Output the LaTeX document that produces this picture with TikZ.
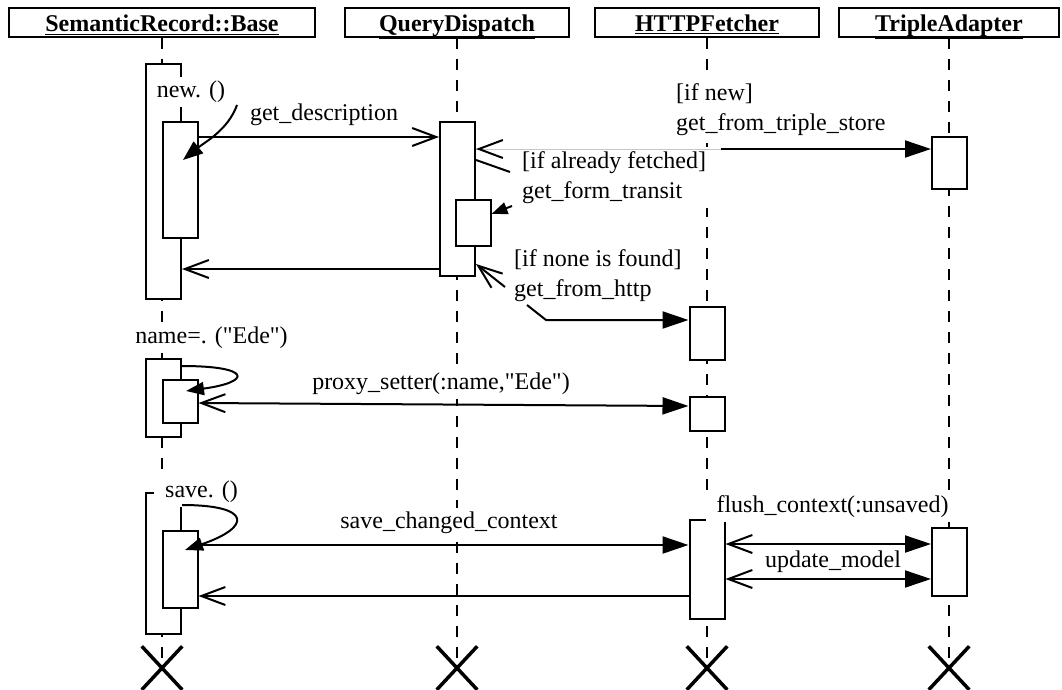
\documentclass[tikz,border=0pt]{standalone}
\usepackage{fontspec}
\setmainfont{Liberation Serif}[Ligatures=TeXOff]
\usetikzlibrary{arrows.meta,shapes.misc}
\begin{document}
\begin{tikzpicture}[x=1pt,y=-1pt,
  font=\fontsize{24}{30}\selectfont,
  head/.style={draw, line width=2pt, rectangle, inner sep=0pt, minimum height=29pt, text height=22pt, text depth=3pt},
  act/.style={draw, line width=2pt, fill=white, rectangle, inner sep=0pt, minimum width=35pt},
  life/.style={line width=2pt, dash pattern=on 11pt off 10pt},
  lbl/.style={fill=white, inner xsep=4pt, inner ysep=4pt, align=left},
  msg/.style={line width=2pt},
  fhead/.style={-{Triangle[length=26pt,width=17pt]}},
  ohead/.style={-{Straight Barb[length=24pt,width=18pt]}},
  both/.style={{Straight Barb[length=24pt,width=18pt]}-{Triangle[length=26pt,width=17pt]}},
  shead/.style={-{Triangle[length=18pt,width=13pt]}},
  destroy/.style={draw, cross out, line width=3.5pt, minimum width=37pt, minimum height=40pt, inner sep=0pt}
]
\useasboundingbox (0,0) rectangle (1062,690);

% headers
\node[head, minimum width=306pt] (h1) at (162,22.5) {\underline{\textbf{SemanticRecord::Base}}};
\node[head, minimum width=224pt] (h2) at (457,22.5) {\underline{\textbf{QueryDispatch}}};
\node[head, minimum width=224pt] (h3) at (707,22.5) {\underline{\textbf{HTTPFetcher}}};
\node[head, minimum width=220pt] (h4) at (949,22.5) {\underline{\textbf{TripleAdapter}}};

% destroy marks
\node[destroy] (x1) at (162,668) {};
\node[destroy] (x2) at (457,668) {};
\node[destroy] (x3) at (707,668) {};
\node[destroy] (x4) at (949,668) {};

% lifelines
\draw[life] (h1.south) -- (x1.center);
\draw[life] (h2.south) -- (x2.center);
\draw[life] (h3.south) -- (x3.center);
\draw[life] (h4.south) -- (x4.center);

% activations
\node[act, minimum height=235pt] (sr1) at (163.5,181.5) {};
\node[act, minimum height=116pt] (sr2) at (180,180) {};
\node[act, minimum height=78pt]  (sr3) at (163.5,398) {};
\node[act, minimum height=43pt]  (sr4) at (180,401.5) {};
\node[act, minimum height=141pt] (sr5) at (163.5,563.5) {};
\node[act, minimum height=77pt]  (sr6) at (180,569.5) {};

\node[act, minimum height=154pt] (qd1) at (457.5,199) {};
\node[act, minimum height=46pt]  (qd2) at (473,223) {};

\node[act, minimum height=53pt] (hf1) at (707,333.5) {};
\node[act, minimum height=34pt] (hf2) at (707,414) {};
\node[act, minimum height=99pt] (hf3) at (707,569.5) {};

\node[act, minimum height=52pt] (ta1) at (949.5,163) {};
\node[act, minimum height=68pt] (ta2) at (949.5,562) {};

% labels
\node[lbl] (l1) at (191,92) {new. ()};
\node[lbl] (l2) at (324,115) {get\_description};
\node[lbl, anchor=west] (l3) at (672,110) {[if new]\\get\_from\_triple\_store};
\node[lbl, anchor=west] (l4) at (518,177.5) {[if already fetched]\\get\_form\_transit};
\node[lbl, anchor=west] (l5) at (510,275.5) {[if none is found]\\get\_from\_http};
\node[lbl] (l6) at (211.5,338) {name=. ("Ede")};
\node[lbl] (l7) at (441,384) {proxy\_setter(:name,"Ede")};
\node[lbl, inner xsep=11pt] (l8) at (201.5,492) {save. ()};
\node[lbl] (l9) at (449,523) {save\_changed\_context};
\node[lbl, inner xsep=11pt] (l10) at (832.5,507) {flush\_context(:unsaved)};
\node[lbl] (l11) at (833,562) {update\_model};

% free ends
\coordinate (n0) at (237,105);
\coordinate (n1) at (183,160);
\coordinate (ts) at (721,149);
\coordinate (dg) at (510,172);
\coordinate (gft) at (512,206);
\coordinate (nf) at (505,287);
\coordinate (gh) at (527,305);
\coordinate (gh2) at (546,320);
\coordinate (ns) at (186,391);
\coordinate (ss) at (185,550);

% messages
\draw[msg, -{Triangle[length=20pt,width=15pt]}] (n0) .. controls (228,130) and (205,142) .. (n1);
\draw[msg, ohead] (sr2.east |- 0,137) -- (qd1.west |- 0,137);
\draw[msg, ohead] (qd1.west |- 0,269) -- (sr1.east |- 0,269);

\draw[line width=0.8pt, black!22] (ts) -- (qd1.east |- 0,149);
\draw[msg, ohead] (qd1.east |- 0,149) ++(2,0) -- ++(-2,0);
\draw[msg, fhead] (ts) -- (ta1.west |- 0,149);
\draw[msg] (qd1.east |- 0,160) -- (dg);
\draw[msg, -{Triangle[length=16pt,width=12pt]}] (gft) -- (qd2.east |- 0,214);
\draw[msg, ohead] (nf) -- (qd1.east |- 0,264);
\draw[msg, fhead] (gh) -- (gh2) -- (hf1.west |- 0,320);

\draw[msg, shead] (sr3.east |- 0,366) .. controls (252,366) and (252,382) .. (ns);
\draw[msg, both] (sr4.east |- 0,403) -- (hf2.west |- 0,406);

\draw[msg, shead] (sr5.east |- 0,505) .. controls (252,505) and (252,527) .. (ss);
\draw[msg, fhead] (sr6.east |- 0,545) -- (hf3.west |- 0,545);
\draw[msg, ohead] (hf3.west |- 0,596) -- (sr6.east |- 0,596);
\draw[msg, both] (hf3.east |- 0,544) -- (ta2.west |- 0,544);
\draw[msg, both] (hf3.east |- 0,579) -- (ta2.west |- 0,579);
\end{tikzpicture}
\end{document}
